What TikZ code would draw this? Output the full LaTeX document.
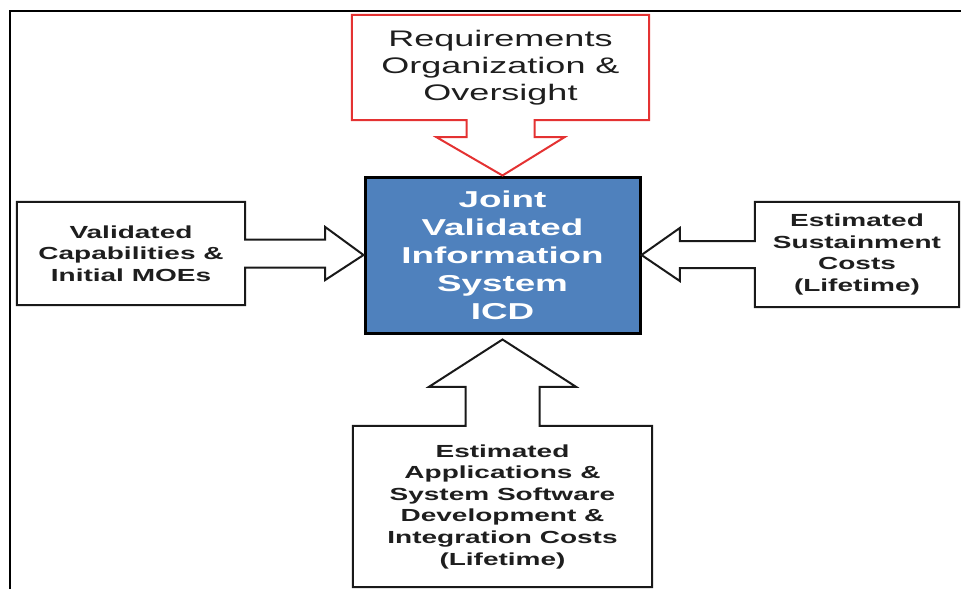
\documentclass[tikz,border=0pt]{standalone}
\usepackage{fontspec}
\setmainfont{Liberation Sans}[FakeStretch=1.6]
\usetikzlibrary{calc}

\definecolor{icdblue}{RGB}{79,129,189}
\definecolor{reqred}{RGB}{228,50,50}
\definecolor{inktext}{RGB}{30,30,30}

\tikzset{
    sidebox/.style 2 args={minimum width=#1, minimum height=#2, inner sep=0pt,
        align=center, text=inktext, font=\bfseries\fontsize{17.5}{21.6}\selectfont},
    outline/.style={draw=black!90, line width=2pt, line join=miter},
    redline/.style={draw=reqred, line width=2pt, line join=miter}
}

\begin{document}
\begin{tikzpicture}[x=1pt,y=-1pt]
        \useasboundingbox (0,0) rectangle (961,589);

        % Draw the frame round the page
        \draw[line width=2.5pt] (10,589) |- (961,11);

        % Draw the ICD in the middle
        \node[draw=black, line width=3pt, fill=icdblue, minimum width=275, minimum height=156,
            inner sep=0pt, align=center, text=white,
            font=\bfseries\fontsize{23}{28}\selectfont] (jvis) at (502.5,255)
            {Joint\\Validated\\Information\\System\\ICD};

        % Draw the requirements box and its red arrow
        \node[minimum width=297, minimum height=105, inner sep=0pt, align=center, text=inktext,
            font=\fontsize{22.5}{27}\selectfont] (req) at (500.5,67.5)
            {Requirements\\Organization \&\\Oversight};
        \draw[redline] ($(req.south)+(34,0)$) -| (req.north east) -- (req.north west)
            |- ($(req.south)+(-34,0)$) -- ++(0,17) -- ++(-30,0) -- (jvis.north)
            -- ($(req.south)+(64,17)$) -- ++(-30,0) -- cycle;

        % Draw the validated capabilities on the left
        \node[sidebox={228}{103}] (val) at (131,253.5)
            {Validated\\Capabilities \&\\Initial MOEs};
        \draw[outline] ($(val.east)+(0,-14)$) -- (val.north east) -- (val.north west)
            -- (val.south west) -- (val.south east) -- ($(val.east)+(0,14)$)
            -- ++(80,0) -- ++(0,12.5) -- (jvis.west)
            -- ($(val.east)+(80,-26.5)$) -- ++(0,12.5) -- cycle;

        % Draw the sustainment costs on the right
        \node[sidebox={204}{105}] (sust) at (857,254.5)
            {Estimated\\Sustainment\\Costs\\(Lifetime)};
        \draw[outline] ($(sust.west)+(0,-13.5)$) -- (sust.north west) -- (sust.north east)
            -- (sust.south east) -- (sust.south west) -- ($(sust.west)+(0,13.5)$)
            -- ++(-75,0) -- ++(0,13) -- (jvis.east)
            -- ($(sust.west)+(-75,-26.5)$) -- ++(0,13) -- cycle;

        % Draw the development costs below
        \node[sidebox={299}{161}] (dev) at (502.5,506.5)
            {Estimated\\Applications \&\\System Software\\Development \&\\Integration Costs\\(Lifetime)};
        \coordinate (devtip) at ($(jvis.south)+(0,5)$);
        \draw[outline] ($(dev.north)+(-37,0)$) -- (dev.north west) -- (dev.south west)
            -- (dev.south east) -- (dev.north east) -- ($(dev.north)+(37,0)$)
            -- ++(0,-39) -- ++(36.5,0) -- (devtip)
            -- ($(dev.north)+(-73.5,-39)$) -- ++(36.5,0) -- cycle;
    \end{tikzpicture}
\end{document}
